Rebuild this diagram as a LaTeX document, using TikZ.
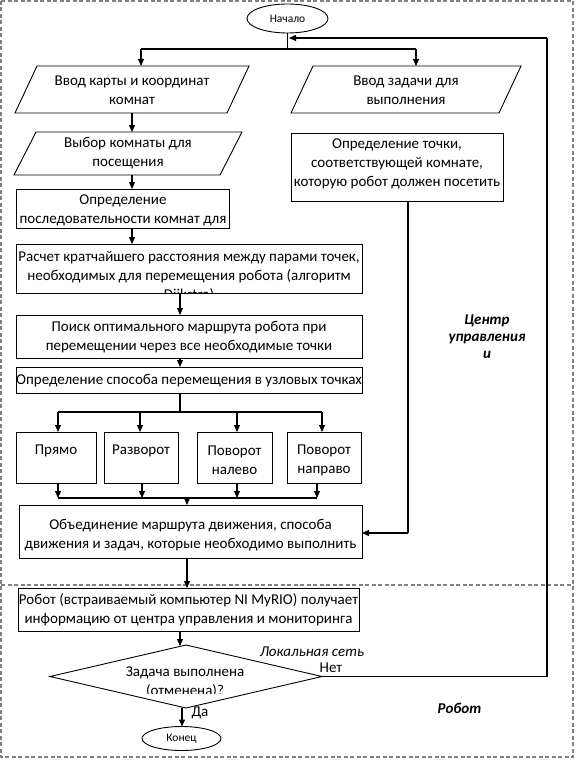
\documentclass[tikz,border=0pt]{standalone}
\usepackage{fontspec}
\setmainfont{Carlito}
\usetikzlibrary{shapes.geometric,arrows.meta}
\definecolor{framegray}{HTML}{808080}
\begin{document}
\begin{tikzpicture}[x=1pt,y=-1pt,
  every node/.style={inner sep=0pt, outer sep=0pt},
  txt/.style={font=\fontsize{15}{19}\selectfont, align=center},
  smalltxt/.style={font=\fontsize{11.5}{13}\selectfont},
  lbl/.style={font=\fontsize{15}{17}\selectfont\bfseries\itshape, align=center},
  itlbl/.style={font=\fontsize{15}{17}\selectfont\itshape},
  outline/.style={draw=black, line width=0.9pt},
  box/.style={outline, rectangle},
  term/.style={outline, ellipse},
  frame/.style={draw=framegray, line width=1.2pt, dash pattern=on 4pt off 2.5pt},
  wire/.style={draw=black, line width=1.1pt},
  arrow/.style={wire, -{Triangle[length=7pt,width=6pt]}}
]
\useasboundingbox (0,0) rectangle (576,760);

% dashed frames
\draw[frame] (1,1) rectangle (573,757);
\draw[frame] (1,585) -- (573,585);

% start / end
\node[term, minimum width=81pt, minimum height=29pt] (start) at (287.5,18.5) {};
\node[smalltxt] (startt) at (287.5,18.5) {Начало};

% parallelograms
\draw[outline] (15,113) -- (227,113) -- (249,66) -- (37,66) -- cycle;
\node[txt] (p1t) at (132,90.5) {Ввод карты и координат\\комнат};
\draw[outline] (291,113) -- (499,113) -- (521,66) -- (313,66) -- cycle;
\node[txt] (p2t) at (406,90.5) {Ввод задачи для\\выполнения};
\draw[outline] (14,175) -- (220,175) -- (242,132) -- (36,132) -- cycle;
\node[txt] (p3t) at (128,153.5) {Выбор комнаты для\\посещения};

% boxes
\node[box, minimum width=213pt, minimum height=39pt] (seq) at (122.5,208.5) {};
\node[txt] (seqt) at (123,210.5) {Определение\\последовательности комнат для};

\node[box, minimum width=212pt, minimum height=68pt] (pt) at (397,167) {};
\node[txt] (ptt) at (397,163.5) {Определение точки,\\соответствующей комнате,\\которую робот должен посетить};

\node[box, minimum width=346pt, minimum height=49pt] (calc) at (189,268.5) {};
\begin{scope}
  \clip (16,244) rectangle (362,293);
  \node[txt] (calct) at (189,277) {Расчет кратчайшего расстояния между парами точек,\\необходимых для перемещения робота (алгоритм\\Dijkstra)};
\end{scope}

\node[box, minimum width=346pt, minimum height=43pt] (search) at (189,336.5) {};
\node[txt] (searcht) at (189,337.5) {Поиск оптимального маршрута робота при\\перемещении через все необходимые точки};

\node[box, minimum width=346pt, minimum height=26pt] (mode) at (189,380) {};
\node[txt] (modet) at (189,380.5) {Определение способа перемещения в узловых точках};

\node[box, minimum width=80pt, minimum height=51pt] (b1) at (56,457.5) {};
\node[txt] (b1t) at (56,450.5) {Прямо};
\node[box, minimum width=74pt, minimum height=51pt] (b2) at (141,457.5) {};
\node[txt] (b2t) at (141,450.5) {Разворот};
\node[box, minimum width=75pt, minimum height=51pt] (b3) at (234.5,457.5) {};
\node[txt] (b3t) at (234.5,460.5) {Поворот\\налево};
\node[box, minimum width=74pt, minimum height=51pt] (b4) at (324,457.5) {};
\node[txt] (b4t) at (324,460.5) {Поворот\\направо};

\node[box, minimum width=343pt, minimum height=53pt] (merge) at (190.5,531.5) {};
\node[txt] (merget) at (190.5,535) {Объединение маршрута движения, способа\\движения и задач, которые необходимо выполнить};

\node[box, minimum width=341pt, minimum height=43pt] (robot) at (188.5,609.5) {};
\node[txt] (robott) at (188.5,609.5) {Робот (встраиваемый компьютер NI MyRIO) получает\\информацию от центра управления и мониторинга};

\node[outline, diamond, minimum width=272pt, minimum height=63pt] (dec) at (186,676.5) {};
\begin{scope}
  \clip (40,640) rectangle (330,693);
  \node[txt] (dect) at (185,682.5) {Задача выполнена\\(отменена)?};
\end{scope}

\node[term, minimum width=79pt, minimum height=24pt] (end) at (181.5,738.5) {};
\node[smalltxt] (endt) at (181.5,738.5) {Конец};

% labels
\node[lbl] (centre) at (487,337) {Центр\\управления\\и};
\node[itlbl] (lan) at (312,652) {Локальная сеть};
\node[lbl] (robl) at (459.5,708) {Робот};
\node[txt] (net) at (331,668) {Нет};
\node[txt] (da) at (200,713) {Да};

% junction coordinates
\coordinate (j0) at (287.5,49);
\coordinate (jl) at (141,49);
\coordinate (jr) at (416,49);
\coordinate (s0) at (180,412);
\coordinate (m0) at (187,498);
\coordinate (fb1) at (547,676.5);
\coordinate (fb2) at (547,38);
\coordinate (fb3) at (289,38);
\coordinate (pr) at (408,533);

% connectors
\draw[wire] (start.south) -- (j0);
\draw[wire] (jl) -- (jr);
\draw[arrow] (jl) -- (141,66);
\draw[arrow] (jr) -- (416,66);
\draw[arrow] (132,113) -- (132,132);
\draw[arrow] (132,175) -- (seq.north -| 132,0);
\draw[arrow] (seq.south -| 132,0) -- (calc.north -| 132,0);
\draw[arrow] (calc.south -| 180,0) -- (search.north -| 180,0);
\draw[arrow] (search.south -| 180,0) -- (mode.north -| 180,0);
\draw[wire] (mode.south -| 180,0) -- (s0);
\draw[wire] (58,412) -- (322,412);
\draw[arrow] (58,412) -- (b1.north -| 58,0);
\draw[arrow] (140,412) -- (b2.north -| 140,0);
\draw[arrow] (237,412) -- (b3.north -| 237,0);
\draw[arrow] (322,412) -- (b4.north -| 322,0);
\draw[arrow] (b1.south -| 58,0) -- (58,498);
\draw[arrow] (b2.south -| 142,0) -- (142,498);
\draw[arrow] (b3.south -| 237,0) -- (237,498);
\draw[arrow] (b4.south -| 317,0) -- (317,498);
\draw[wire] (58,498) -- (317,498);
\draw[arrow] (m0) -- (merge.north -| m0);
\draw[wire] (pt.south -| pr) -- (pr);
\draw[arrow] (pr) -- (merge.east |- pr);
\draw[arrow] (merge.south -| 187,0) -- (robot.north -| 187,0);
\draw[arrow] (robot.south -| 180,0) -- (180,646);
\draw[arrow] (182,708) -- (end.north -| 182,0);
\draw[wire] (dec.east) -- (fb1) -- (fb2);
\draw[arrow] (fb2) -- (fb3);
\end{tikzpicture}
\end{document}
